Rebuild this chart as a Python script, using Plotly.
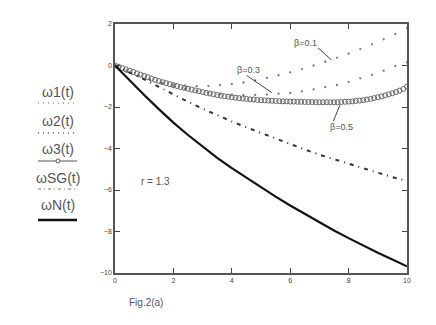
import plotly.graph_objects as go

# -------------------------------------------------------------
# Data
# -------------------------------------------------------------
t_dots = [0.0, 0.4, 0.8, 1.2, 1.6, 2.0, 2.4, 2.8, 3.2, 3.6, 4.0, 4.4, 4.8,
          5.2, 5.6, 6.0, 6.4, 6.8, 7.2, 7.6, 8.0, 8.4, 8.8, 9.2, 9.6, 10.0]
w1 = [0.0, -0.30, -0.52, -0.70, -0.83, -0.92, -0.97, -0.99, -0.98, -0.95, -0.90, -0.82, -0.72,
      -0.60, -0.47, -0.33, -0.17, 0.00, 0.18, 0.37, 0.57, 0.79, 1.02, 1.26, 1.52, 1.80]
w2 = [0.0, -0.25, -0.48, -0.68, -0.86, -1.00, -1.12, -1.23, -1.31, -1.37, -1.41, -1.43, -1.42,
      -1.40, -1.36, -1.32, -1.25, -1.15, -1.04, -0.94, -0.80, -0.62, -0.45, -0.25, -0.02, 0.15]

t_circ = [i * 0.125 for i in range(81)]
w3 = [0.00, -0.06, -0.13, -0.19, -0.25, -0.31, -0.38, -0.44, -0.50,
      -0.56, -0.63, -0.69, -0.75, -0.80, -0.85, -0.90, -0.95,
      -0.99, -1.04, -1.08, -1.12, -1.16, -1.20, -1.24, -1.28,
      -1.32, -1.35, -1.39, -1.42, -1.45, -1.48, -1.50, -1.53,
      -1.55, -1.57, -1.59, -1.61, -1.63, -1.64, -1.66, -1.67,
      -1.68, -1.69, -1.70, -1.71, -1.72, -1.73, -1.73, -1.74,
      -1.74, -1.75, -1.75, -1.76, -1.76, -1.76, -1.77, -1.77,
      -1.77, -1.77, -1.77, -1.77, -1.77, -1.76, -1.75, -1.74,
      -1.73, -1.71, -1.69, -1.67, -1.64, -1.61, -1.57, -1.53,
      -1.49, -1.44, -1.39, -1.34, -1.28, -1.21, -1.13, -1.02, -0.88]

t_line = [0.0, 0.5, 1.0, 1.5, 2.0, 2.5, 3.0, 3.5, 4.0, 4.5, 5.0,
          5.5, 6.0, 6.5, 7.0, 7.5, 8.0, 8.5, 9.0, 9.5, 10.0]
wSG = [0.0, -0.32, -0.67, -1.03, -1.40, -1.75, -2.08, -2.40, -2.70, -2.98, -3.25,
       -3.53, -3.80, -4.05, -4.30, -4.52, -4.75, -4.97, -5.18, -5.38, -5.56]
wN = [0.0, -0.72, -1.42, -2.10, -2.75, -3.35, -3.92, -4.45, -4.95, -5.42, -5.88,
      -6.32, -6.75, -7.16, -7.56, -7.95, -8.32, -8.68, -9.02, -9.35, -9.68]

x_ticks = [0, 2, 4, 6, 8, 10]
y_ticks = [2, 0, -2, -4, -6, -8, -10]

GRAY = "#555555"
FONT = "Liberation Sans, Arial, sans-serif"

fig = go.Figure()

fig.add_trace(go.Scatter(x=t_dots, y=w1, mode="markers",
                         marker=dict(size=2.3, color="#777777"), name="ω1(t)"))
fig.add_trace(go.Scatter(x=t_dots, y=w2, mode="markers",
                         marker=dict(size=2.3, color="#777777"), name="ω2(t)"))
fig.add_trace(go.Scatter(x=t_circ, y=w3, mode="markers",
                         marker=dict(symbol="circle-open", size=5, color="#666666",
                                     line=dict(width=1)), name="ω3(t)"))
fig.add_trace(go.Scatter(x=t_line, y=wSG, mode="lines",
                         line=dict(color="#333333", width=2, dash="4px,5px,1px,5px"),
                         name="ωSG(t)"))
fig.add_trace(go.Scatter(x=t_line, y=wN, mode="lines",
                         line=dict(color="#111111", width=2.2), name="ωN(t)"))

# -------------------------------------------------------------
# Annotations inside the plot
# -------------------------------------------------------------
labels = [
    ("β=0.1", 6.53, 1.1, 6.95, 0.85, 7.42, 0.26),
    ("β=0.3", 4.57, -0.22, 4.51, -0.48, 5.37, -1.31),
    ("β=0.5", 7.76, -2.97, 7.48, -2.68, 7.71, -1.88),
]
for txt, tx, ty, x0, y0, x1, y1 in labels:
    fig.add_annotation(x=tx, y=ty, text=txt, showarrow=False,
                       font=dict(size=9, color=GRAY, family=FONT))
    fig.add_shape(type="line", x0=x0, y0=y0, x1=x1, y1=y1,
                  line=dict(color="#444444", width=1))

fig.add_annotation(x=1.4, y=-5.6, text="r = 1.3", showarrow=False,
                   font=dict(size=10, color=GRAY, family=FONT))

# -------------------------------------------------------------
# Hand-drawn legend on the left (paper coords from screen pixels)
# -------------------------------------------------------------
OFF = 8  # default page body margin
W, H = 436 - OFF, 325 - OFF
L, R, T, B = 115, 407, 24, 273   # plot area on screen


def px_x(px):
    return (px - L) / (R - L)


def px_y(py):
    return (B - py) / (B - T)


fig.add_annotation(x=px_x(146), y=px_y(302), xref="paper", yref="paper",
                   xanchor="center", yanchor="middle",
                   text="Fig.2(a)", showarrow=False,
                   font=dict(size=10, color=GRAY, family=FONT))

legend = [
    ("ω1(t)", 92, 103, dict(color="#999999", width=1.5, dash="1px,4px")),
    ("ω2(t)", 121, 133, dict(color="#666666", width=1.5, dash="1px,4px")),
    ("ω3(t)", 149, 161, dict(color="#555555", width=1)),
    ("ωSG(t)", 178, 189, dict(color="#777777", width=1.2, dash="3px,3px,1px,3px")),
    ("ωN(t)", 205, 220, dict(color="#111111", width=2.5)),
]
for txt, ty, ly, ls in legend:
    fig.add_annotation(x=px_x(58), y=px_y(ty), xref="paper", yref="paper",
                       xanchor="center", yanchor="middle",
                       text=txt, showarrow=False,
                       font=dict(size=14, color=GRAY, family=FONT))
    fig.add_shape(type="line", xref="paper", yref="paper",
                  x0=px_x(38), x1=px_x(77), y0=px_y(ly), y1=px_y(ly), line=ls)
# circle on the ω3 sample
fig.add_shape(type="circle", xref="paper", yref="paper",
              x0=px_x(56), x1=px_x(60), y0=px_y(163), y1=px_y(159),
              line=dict(color="#555555", width=1), fillcolor="white")

axis_common = dict(
    showgrid=False, zeroline=False, showline=True, linecolor="#555555", linewidth=1.5,
    mirror="ticks", ticks="inside", ticklen=5, tickcolor="#444444",
    tickfont=dict(size=7, color="#444444", family=FONT),
)

fig.update_layout(
    width=W, height=H,
    margin=dict(l=L - OFF, r=W - (R - OFF), t=T - OFF, b=H - (B - OFF)),
    paper_bgcolor="white", plot_bgcolor="white",
    showlegend=False,
    xaxis=dict(range=[0, 10], tickvals=x_ticks, **axis_common),
    yaxis=dict(range=[-10, 2], tickvals=y_ticks, **axis_common),
)

fig.write_html("out.html")
